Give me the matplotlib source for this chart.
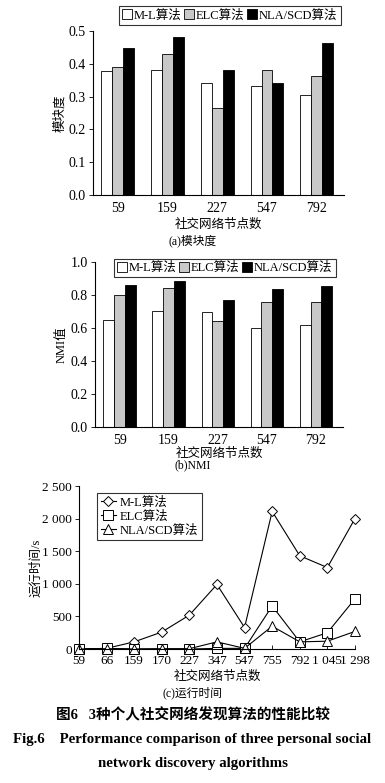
import matplotlib.pyplot as plt
import numpy as np

plt.rcParams['font.family'] = ['Liberation Serif', 'Noto Sans CJK SC']
plt.rcParams['font.size'] = 9
plt.rcParams['axes.unicode_minus'] = False

# ---- data ----
bar_nodes = ["59", "159", "227", "547", "792"]
series_names = ["M-L算法", "ELC算法", "NLA/SCD算法"]
mod_ml = [0.377, 0.380, 0.340, 0.331, 0.305]
mod_elc = [0.390, 0.430, 0.266, 0.380, 0.362]
mod_nla = [0.447, 0.482, 0.380, 0.340, 0.463]

nmi_ml = [0.648, 0.705, 0.695, 0.598, 0.620]
nmi_elc = [0.802, 0.842, 0.645, 0.760, 0.755]
nmi_nla = [0.862, 0.882, 0.772, 0.835, 0.857]

time_nodes = ["59", "66", "159", "170", "227", "347", "547", "755", "792", "1 045", "1 298"]
time_ml = [0, 10, 110, 260, 520, 990, 330, 2110, 1430, 1250, 2000]
time_elc = [0, 10, 0, 0, 0, 10, 10, 660, 110, 250, 770]
time_nla = [0, 5, 0, 5, 5, 110, 10, 350, 110, 120, 270]

bar_colors = ["white", "#c8c8c8", "black"]

fig = plt.figure(figsize=(3.85, 7.83), dpi=100)


def bar_panel(ax, vals, ylim, yticks):
    x = np.arange(len(bar_nodes))
    w = 0.22
    for k, v in enumerate(vals):
        ax.bar(x + (k - 1) * w, v, w, color=bar_colors[k], edgecolor="black",
               linewidth=0.6, label=series_names[k])
    ax.set_xlim(-0.5, len(bar_nodes) - 0.45)
    ax.set_ylim(*ylim)
    ax.set_yticks(yticks)
    ax.set_yticklabels([f"{t:.1f}" for t in yticks])
    ax.set_xticks(x)
    ax.set_xticklabels(bar_nodes)
    ax.tick_params(axis="both", labelsize=10)
    ax.tick_params(axis="x", length=0, pad=5)
    ax.tick_params(axis="y", length=3, width=0.6, direction="out", pad=2)
    for s in ["top", "right"]:
        ax.spines[s].set_visible(False)
    for s in ["left", "bottom"]:
        ax.spines[s].set_linewidth(0.8)


def bar_legend(ax, anchor):
    leg = ax.legend(loc="upper right", bbox_to_anchor=anchor, bbox_transform=fig.transFigure,
                    ncol=3, frameon=True, fancybox=False, edgecolor="black", handlelength=0.8,
                    handleheight=0.8, handletextpad=0.15, columnspacing=0.2, borderpad=0.25,
                    borderaxespad=0, fontsize=9)
    leg.get_frame().set_linewidth(0.8)


# (a) modularity
ax1 = fig.add_axes([0.2416, 0.751, 0.652, 0.2094])
bar_panel(ax1, [mod_ml, mod_elc, mod_nla], (0, 0.5), [0.0, 0.1, 0.2, 0.3, 0.4, 0.5])
ax1.set_ylabel("模块度", labelpad=2)
ax1.set_xlabel("社交网络节点数", labelpad=3)
bar_legend(ax1, (0.885, 0.992))
fig.text(0.5, 1 - 241 / 783, "(a)模块度", ha="center", va="center", fontsize=8.5)

# (b) NMI
ax2 = fig.add_axes([0.2468, 0.4547, 0.644, 0.2107])
bar_panel(ax2, [nmi_ml, nmi_elc, nmi_nla], (0, 1.0), [0.0, 0.2, 0.4, 0.6, 0.8, 1.0])
ax2.set_ylabel("NMI值", labelpad=2)
ax2.set_xlabel("社交网络节点数", labelpad=1)
bar_legend(ax2, (0.872, 1 - 259 / 783))
fig.text(0.5, 1 - 465 / 783, "(b)NMI", ha="center", va="center", fontsize=8.5)

# (c) run time
ax3 = fig.add_axes([0.205, 0.1711, 0.717, 0.2082])
xt = np.arange(len(time_nodes))
ax3.plot(xt, time_ml, color="black", lw=0.8, marker="D", ms=5, mfc="white", mec="black",
         mew=0.7, label="M-L算法", clip_on=False)
ax3.plot(xt, time_elc, color="black", lw=0.8, marker="s", ms=6.5, mfc="white", mec="black",
         mew=0.7, label="ELC算法", clip_on=False)
ax3.plot(xt, time_nla, color="black", lw=0.8, marker="^", ms=6.5, mfc="white", mec="black",
         mew=0.7, label="NLA/SCD算法", clip_on=False)
ax3.set_xlim(0, len(time_nodes) - 1)
ax3.set_ylim(0, 2500)
yt = [0, 500, 1000, 1500, 2000, 2500]
ax3.set_yticks(yt)
ax3.set_yticklabels(["0", "500", "1 000", "1 500", "2 000", "2 500"])
ax3.set_xticks(xt)
ax3.set_xticklabels(time_nodes)
ax3.tick_params(axis="both", labelsize=9.5)
ax3.tick_params(axis="x", length=3, width=0.6, direction="in", pad=4)
ax3.tick_params(axis="y", length=3, width=0.6, direction="out", pad=2)
ax3.set_ylabel("运行时间/s", labelpad=0)
ax3.set_xlabel("社交网络节点数", labelpad=3)
for s in ["top", "right"]:
    ax3.spines[s].set_visible(False)
for s in ["left", "bottom"]:
    ax3.spines[s].set_linewidth(0.8)
leg3 = ax3.legend(loc="upper left", bbox_to_anchor=(0.065, 0.96), frameon=True, fancybox=False,
                  edgecolor="black", handlelength=1.2, handletextpad=0.3, borderpad=0.3,
                  labelspacing=0.15, borderaxespad=0, fontsize=9)
leg3.get_frame().set_linewidth(0.8)
fig.text(0.5, 1 - 693 / 783, "(c)运行时间", ha="center", va="center", fontsize=8.5)

# figure caption
fig.text(0.5, 1 - 715 / 783, "图6   3种个人社交网络发现算法的性能比较", ha="center", va="center",
         fontsize=10.5, fontweight="bold")
fig.text(0.5, 1 - 740 / 783, "Fig.6    Performance comparison of three personal social",
         ha="center", va="center", fontsize=10.7, fontweight="bold")
fig.text(0.5, 1 - 763 / 783, "network discovery algorithms", ha="center", va="center",
         fontsize=10.7, fontweight="bold")

fig.savefig("out.png", dpi=100)
